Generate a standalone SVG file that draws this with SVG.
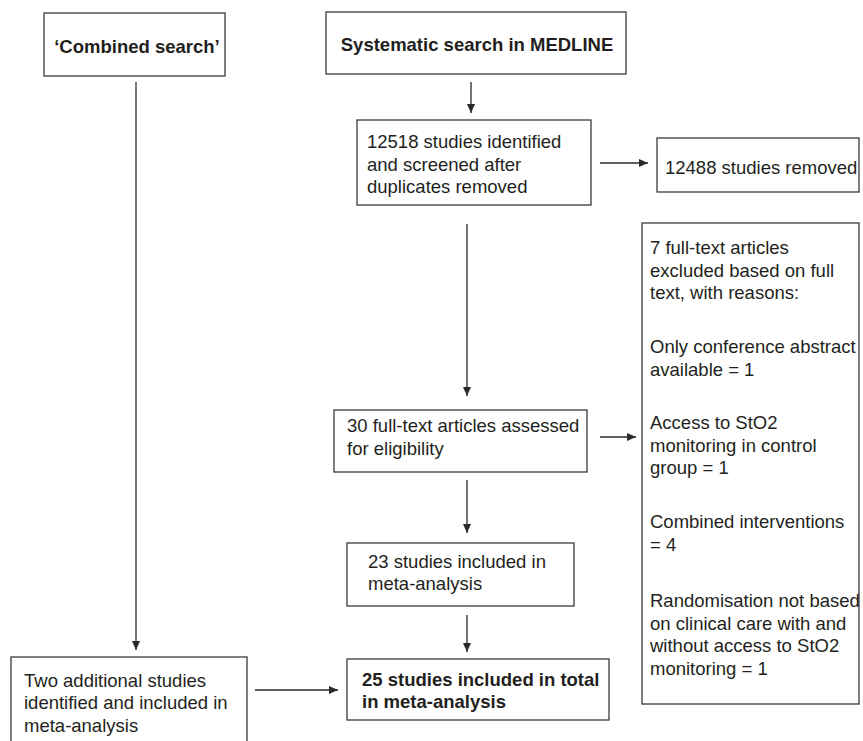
<svg xmlns="http://www.w3.org/2000/svg" width="863" height="741" viewBox="0 0 863 741">
<style>
  .box { fill: #ffffff; stroke: #3a3a3a; stroke-width: 1.3; }
  .t { font-family: "Liberation Sans", Arial, sans-serif; font-size: 18.5px; fill: #231f20; }
  .b { font-weight: bold; }
  .c { fill: none; stroke: #2a2a2a; stroke-width: 1.3; }
</style>
<defs>
  <marker id="ah" markerUnits="userSpaceOnUse" markerWidth="9" markerHeight="9" refX="9" refY="4.5" orient="auto">
    <path d="M0,0.5 L9,4.5 L0,8.5 z" fill="#2a2a2a"/>
  </marker>
</defs>
<rect width="863" height="741" fill="#ffffff"/>

<g id="connectors">
  <line class="c" x1="136" y1="82" x2="136" y2="650" marker-end="url(#ah)"/>
  <line class="c" x1="471" y1="82" x2="471" y2="113" marker-end="url(#ah)"/>
  <line class="c" x1="600" y1="163" x2="648" y2="163" marker-end="url(#ah)"/>
  <line class="c" x1="467" y1="224" x2="467" y2="396" marker-end="url(#ah)"/>
  <line class="c" x1="600" y1="437" x2="636" y2="437" marker-end="url(#ah)"/>
  <line class="c" x1="467" y1="480" x2="467" y2="533" marker-end="url(#ah)"/>
  <line class="c" x1="467" y1="615" x2="467" y2="652" marker-end="url(#ah)"/>
  <line class="c" x1="255" y1="690" x2="338" y2="690" marker-end="url(#ah)"/>
</g>

<g id="combined-search">
  <rect class="box" x="44" y="13" width="181" height="63"/>
  <text class="t b" x="137" y="53" text-anchor="middle">‘Combined search’</text>
</g>

<g id="medline">
  <rect class="box" x="326" y="12" width="300" height="62"/>
  <text class="t b" x="477" y="51" text-anchor="middle">Systematic search in MEDLINE</text>
</g>

<g id="identified">
  <rect class="box" x="357" y="120" width="234" height="85"/>
  <text class="t" x="367" y="148">12518 studies identified</text>
  <text class="t" x="367" y="170.5">and screened after</text>
  <text class="t" x="367" y="193">duplicates removed</text>
</g>

<g id="removed">
  <rect class="box" x="657" y="138" width="202" height="54"/>
  <text class="t" x="665" y="174">12488 studies removed</text>
</g>

<g id="excluded">
  <rect class="box" x="642" y="223" width="217" height="481"/>
  <text class="t" x="650" y="254">7 full-text articles</text>
  <text class="t" x="650" y="276.5">excluded based on full</text>
  <text class="t" x="650" y="299">text, with reasons:</text>
  <text class="t" x="650" y="353">Only conference abstract</text>
  <text class="t" x="650" y="375.5">available = 1</text>
  <text class="t" x="650" y="429">Access to StO2</text>
  <text class="t" x="650" y="451.5">monitoring in control</text>
  <text class="t" x="650" y="474">group = 1</text>
  <text class="t" x="650" y="528">Combined interventions</text>
  <text class="t" x="650" y="550.5">= 4</text>
  <text class="t" x="650" y="607">Randomisation not based</text>
  <text class="t" x="650" y="629.5">on clinical care with and</text>
  <text class="t" x="650" y="652">without access to StO2</text>
  <text class="t" x="650" y="674.5">monitoring = 1</text>
</g>

<g id="assessed">
  <rect class="box" x="334" y="410" width="253" height="62"/>
  <text class="t" x="347" y="432">30 full-text articles assessed</text>
  <text class="t" x="347" y="455">for eligibility</text>
</g>

<g id="included-23">
  <rect class="box" x="347" y="543" width="227" height="63"/>
  <text class="t" x="368" y="568">23 studies included in</text>
  <text class="t" x="368" y="590">meta-analysis</text>
</g>

<g id="additional">
  <rect class="box" x="11" y="657" width="236" height="90"/>
  <text class="t" x="24" y="687">Two additional studies</text>
  <text class="t" x="24" y="709">identified and included in</text>
  <text class="t" x="24" y="731.5">meta-analysis</text>
</g>

<g id="total">
  <rect class="box" x="347" y="659" width="262" height="61"/>
  <text class="t b" x="362" y="686">25 studies included in total</text>
  <text class="t b" x="362" y="708">in meta-analysis</text>
</g>
</svg>
